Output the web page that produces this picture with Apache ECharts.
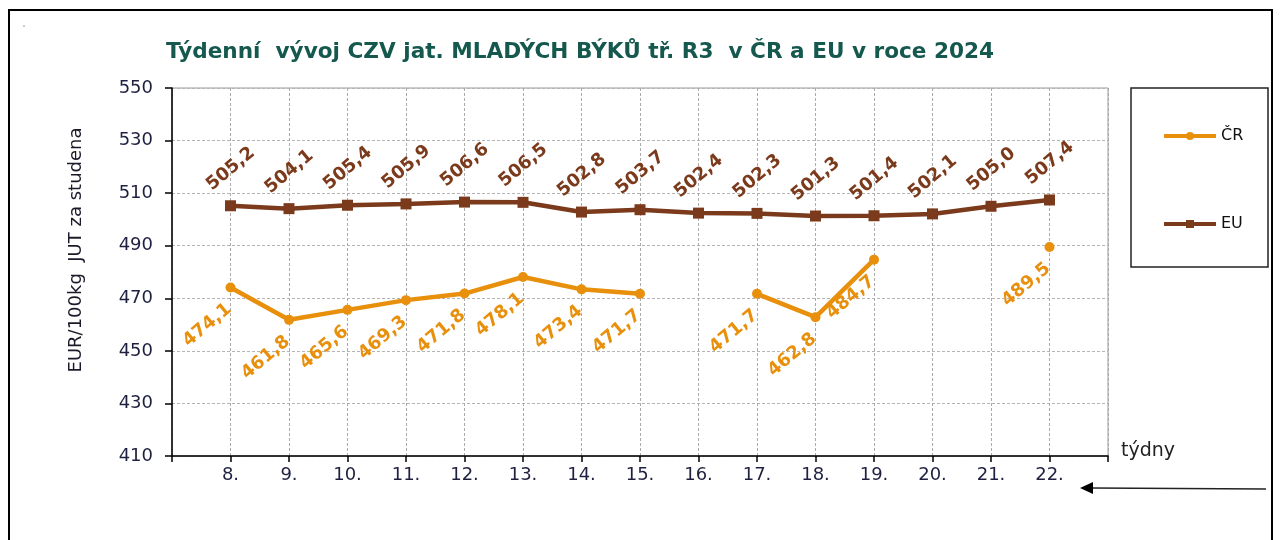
<!DOCTYPE html>
<html>
<head>
<meta charset="utf-8">
<script src="https://cdn.jsdelivr.net/npm/echarts@6/dist/echarts.min.js"></script>
<style>
  html, body { margin: 0; padding: 0; background: #fff; }
  #chart { width: 1281px; height: 540px; }
</style>
</head>
<body>
<div id="chart"></div>
<script>
  // weeks (blank slots at both ends give the edge margins of the plot)
  var weeks = ['', '8.', '9.', '10.', '11.', '12.', '13.', '14.', '15.', '16.', '17.', '18.', '19.', '20.', '21.', '22.', ''];
  var crValues = [null, 474.1, 461.8, 465.6, 469.3, 471.8, 478.1, 473.4, 471.7, null, 471.7, 462.8, 484.7, null, null, 489.5, null];
  var euValues = [null, 505.2, 504.1, 505.4, 505.9, 506.6, 506.5, 502.8, 503.7, 502.4, 502.3, 501.3, 501.4, 502.1, 505.0, 507.4, null];
  var yTicks = { min: 410, max: 550, step: 20 };

  var myChart = echarts.init(document.getElementById('chart'));

  var fmt = function (p) {
    return p.value == null ? '' : p.value.toFixed(1).replace('.', ',');
  };

  var option = {
    animation: false,
    backgroundColor: '#fff',
    title: {
      text: 'Týdenní  vývoj CZV jat. MLADÝCH BÝKŮ tř. R3  v ČR a EU v roce 2024',
      left: 161,
      top: 36,
      textStyle: { fontFamily: 'DejaVu Sans', fontSize: 21.6, fontWeight: 'bold', color: '#14584e' }
    },
    grid: {
      left: 172, right: 173, top: 88, bottom: 84,
      show: true, borderColor: '#999', borderWidth: 1, backgroundColor: 'transparent'
    },
    legend: {
      orient: 'vertical',
      left: 1157,
      top: 123,
      itemGap: 72,
      itemWidth: 52,
      itemHeight: 10,
      lineStyle: { width: 4 },
      textStyle: { fontFamily: 'DejaVu Sans', fontSize: 16, color: '#111' },
      data: ['ČR', 'EU']
    },
    xAxis: {
      type: 'category',
      data: weeks,
      boundaryGap: false,
      name: 'týdny',
      nameLocation: 'end',
      nameGap: 13,
      nameTextStyle: { fontFamily: 'DejaVu Sans', fontSize: 19, color: '#222', verticalAlign: 'top', padding: [-14, 0, 0, 0] },
      axisLine: { lineStyle: { color: '#000', width: 1.5 } },
      axisTick: { show: true, length: 6, lineStyle: { color: '#000', width: 1.5 } },
      axisLabel: { interval: 0, margin: 10, fontFamily: 'DejaVu Sans', fontSize: 18, color: '#1f2040' },
      splitLine: { show: true, lineStyle: { color: '#aaa', type: [3, 2], width: 1 } }
    },
    yAxis: {
      type: 'value',
      min: yTicks.min,
      max: yTicks.max,
      interval: yTicks.step,
      name: 'EUR/100kg  JUT za studena',
      nameLocation: 'middle',
      nameRotate: 90,
      nameGap: 87,
      nameTextStyle: { fontFamily: 'DejaVu Sans', fontSize: 18, color: '#1a1a2a', padding: [0, 0, 0, 44] },
      axisLine: { show: true, lineStyle: { color: '#000', width: 1.5 } },
      axisTick: { show: true, length: 7, lineStyle: { color: '#000', width: 1.5 } },
      axisLabel: { margin: 19, fontFamily: 'DejaVu Sans', fontSize: 18, color: '#1f2040' },
      splitLine: { show: true, lineStyle: { color: '#b4b4b4', type: [3, 2], width: 1 } }
    },
    series: [
      {
        name: 'ČR',
        type: 'line',
        data: crValues,
        connectNulls: false,
        symbol: 'circle',
        symbolSize: 10,
        lineStyle: { color: '#e8900c', width: 4.5 },
        itemStyle: { color: '#e8900c' },
        label: {
          show: true,
          position: 'inside',
          rotate: 40,
          align: 'center',
          verticalAlign: 'middle',
          offset: [-42, 14],
          formatter: fmt,
          fontFamily: 'DejaVu Sans',
          fontSize: 18,
          fontWeight: 'bold',
          color: '#e8900c'
        },
        z: 3
      },
      {
        name: 'EU',
        type: 'line',
        data: euValues,
        symbol: 'rect',
        symbolSize: 11,
        lineStyle: { color: '#7b3a1b', width: 4.5 },
        itemStyle: { color: '#7b3a1b' },
        label: {
          show: true,
          position: 'inside',
          rotate: 40,
          align: 'center',
          verticalAlign: 'middle',
          offset: [24, -28],
          formatter: fmt,
          fontFamily: 'DejaVu Sans',
          fontSize: 18,
          fontWeight: 'bold',
          color: '#7b3a1b'
        },
        z: 3
      }
    ],
    graphic: [
      // outer frame
      { type: 'rect', shape: { x: 9, y: 10, width: 1263, height: 560 }, style: { fill: 'none', stroke: '#000', lineWidth: 2 }, silent: true },
      // legend box
      { type: 'rect', shape: { x: 1131, y: 88, width: 137, height: 179 }, style: { fill: 'none', stroke: '#222', lineWidth: 1.5 }, silent: true },
      // arrow
      { type: 'line', shape: { x1: 1266, y1: 489, x2: 1092, y2: 488 }, style: { stroke: '#222', lineWidth: 1.5 }, silent: true },
      { type: 'polygon', shape: { points: [[1080, 488], [1093, 482], [1093, 494]] }, style: { fill: '#000' }, silent: true },
      { type: 'rect', shape: { x: 23, y: 25, width: 2, height: 2 }, style: { fill: '#ccc' }, silent: true }
    ]
  };

  myChart.setOption(option);
</script>
</body>
</html>
